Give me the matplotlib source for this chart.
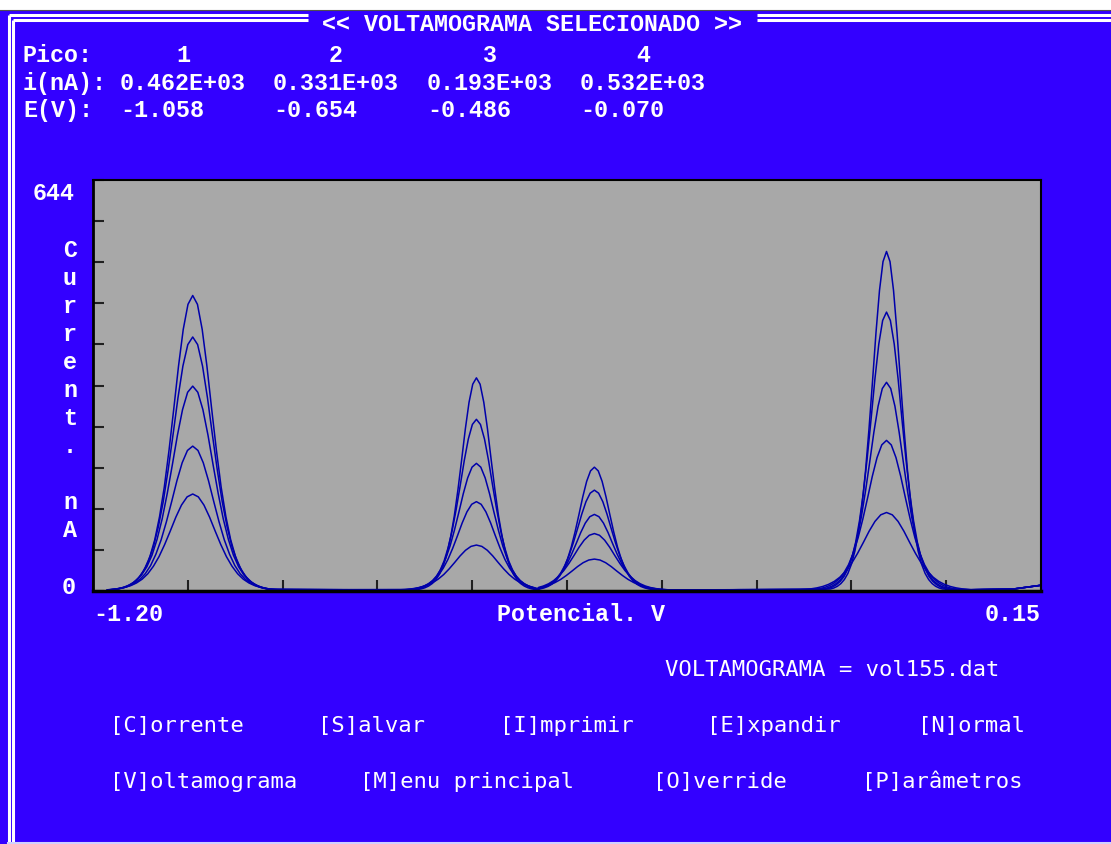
import matplotlib.pyplot as plt
import numpy as np

# tela do voltamograma (estilo DOS)
W, H = 1111, 845
AZUL = '#3300ff'
CINZA = '#a8a8a8'
TRACO = '#0000aa'

pico_num = ['1', '2', '3', '4']
pico_i = ['0.462E+03', '0.331E+03', '0.193E+03', '0.532E+03']
pico_E = ['-1.058', '-0.654', '-0.486', '-0.070']

# posicao dos picos (V)
centros = [-1.058, -0.654, -0.486, -0.070]
# alturas (nA) de cada varredura, da maior para a menor
alt_p1 = [462, 397, 320, 226, 151]
alt_p2 = [333, 268, 199, 139, 71]
alt_p3 = [193, 157, 119, 89, 49]
alt_p4 = [531, 436, 326, 235, 122]
# largura (sigma, V)
larg_p1 = [0.027, 0.028, 0.029, 0.030, 0.032]
larg_p2 = [0.021, 0.023, 0.025, 0.027, 0.031]
larg_p3 = [0.022, 0.024, 0.026, 0.029, 0.032]
larg_p4 = [0.020, 0.022, 0.024, 0.027, 0.033]

meio = [0.004, 0.007, 0.012, 0.020, 0.032, 0.050, 0.077, 0.116, 0.172,
        0.250, 0.350, 0.475, 0.615, 0.760, 0.885, 0.970]
perfil = meio + [1.000] + meio[::-1]
desvios = np.linspace(-4, 4, len(perfil))

# linha de base entre os picos
base_x = [-1.18, -0.85, -0.567, -0.28]
base_y = [1, 2, 2, 2]
cauda_x = [0.05, 0.11, 0.15]
cauda_y = [2, 3, 9]

menu1 = [('[C]orrente', 110), ('[S]alvar', 318), ('[I]mprimir', 500),
         ('[E]xpandir', 707), ('[N]ormal', 918)]
menu2 = [('[V]oltamograma', 110), ('[M]enu principal', 360),
         ('[O]verride', 653), ('[P]arâmetros', 862)]

fig = plt.figure(figsize=(W / 100, H / 100), dpi=100, facecolor=AZUL)

# camada de fundo em pixels
tela = fig.add_axes([0, 0, 1, 1])
tela.set_xlim(0, W)
tela.set_ylim(H, 0)
tela.axis('off')
tela.set_zorder(0)

tela.add_patch(plt.Rectangle((0, 0), W, 10.5, color='white', lw=0))
tela.plot([0, W], [11, 11], color='#505050', lw=0.8)
for y0, x0 in [(15.5, 8.5), (21, 13)]:
    tela.plot([x0, 308], [y0, y0], color='white', lw=2.2, solid_capstyle='butt')
    tela.plot([757, W], [y0, y0], color='white', lw=2.2, solid_capstyle='butt')
    tela.plot([x0, x0], [y0, H], color='white', lw=2.2, solid_capstyle='butt')
tela.plot([8, W], [844, 844], color='#d0d0ff', lw=1.5)

cab = dict(family='Liberation Mono', weight='bold', size=16.8, color='white', va='baseline')
tela.text(322, 31, '<< VOLTAMOGRAMA SELECIONADO >>', **cab)
tela.text(23, 62, 'Pico:', **cab)
tela.text(23, 90, 'i(nA):', **cab)
tela.text(23, 117, 'E(V):', **cab)
colunas = [120, 273, 427, 580]
for k in range(4):
    tela.text(colunas[k] + 63, 62, pico_num[k], ha='center', **cab)
    tela.text(colunas[k], 90, pico_i[k], **cab)
    tela.text(colunas[k], 117, pico_E[k], **cab)

# rotulos do grafico
tela.text(75, 200, '644', ha='right', **cab)
tela.text(76, 594, '0', ha='right', **cab)
for j, letra in enumerate('Current. nA'):
    tela.text(70, 257 + 28 * j, letra, ha='center', **cab)
tela.text(93, 621, '-1.20', **cab)
tela.text(1041, 621, '0.15', ha='right', **cab)
tela.text(497, 621, 'Potencial. V', **cab)

men = dict(family='DejaVu Sans Mono', size=16, color='white', va='center')
tela.text(665, 670, 'VOLTAMOGRAMA = vol155.dat', **men)
for txt, x in menu1:
    tela.text(x, 726, txt, **men)
for txt, x in menu2:
    tela.text(x, 782, txt, **men)

# grafico
ax = fig.add_axes([93 / W, 1 - 592 / H, (1041 - 93) / W, (592 - 181) / H])
ax.set_zorder(1)
ax.set_facecolor(CINZA)
ax.set_xlim(-1.20, 0.15)
ax.set_ylim(0, 644)
ax.set_xticks(np.linspace(-1.20, 0.15, 11))
ax.set_yticks(np.linspace(0, 644, 11))
ax.tick_params(direction='in', length=8, width=1.5, color='#202020',
               labelbottom=False, labelleft=False)
for lado in ax.spines.values():
    lado.set_color('black')
    lado.set_linewidth(1.5)
ax.spines['bottom'].set_linewidth(2.5)
ax.spines['left'].set_linewidth(2)

alturas = [alt_p1, alt_p2, alt_p3, alt_p4]
larguras = [larg_p1, larg_p2, larg_p3, larg_p4]
limites = base_x[1:] + [cauda_x[0]]
for i in range(5):
    xs = [base_x[0]]
    ys = [base_y[0]]
    for k in range(4):
        xk = centros[k] + desvios * larguras[k][i]
        yk = alturas[k][i] * np.array(perfil) + 1
        ok = (xk > xs[-1]) & (xk < limites[k])
        xs += list(xk[ok])
        ys += list(yk[ok])
        if k < 3:
            xs.append(base_x[k + 1])
            ys.append(base_y[k + 1])
    xs += cauda_x
    ys += cauda_y
    ax.plot(xs, ys, color=TRACO, lw=1.1)

fig.savefig('out.png', dpi=100, facecolor=AZUL)
